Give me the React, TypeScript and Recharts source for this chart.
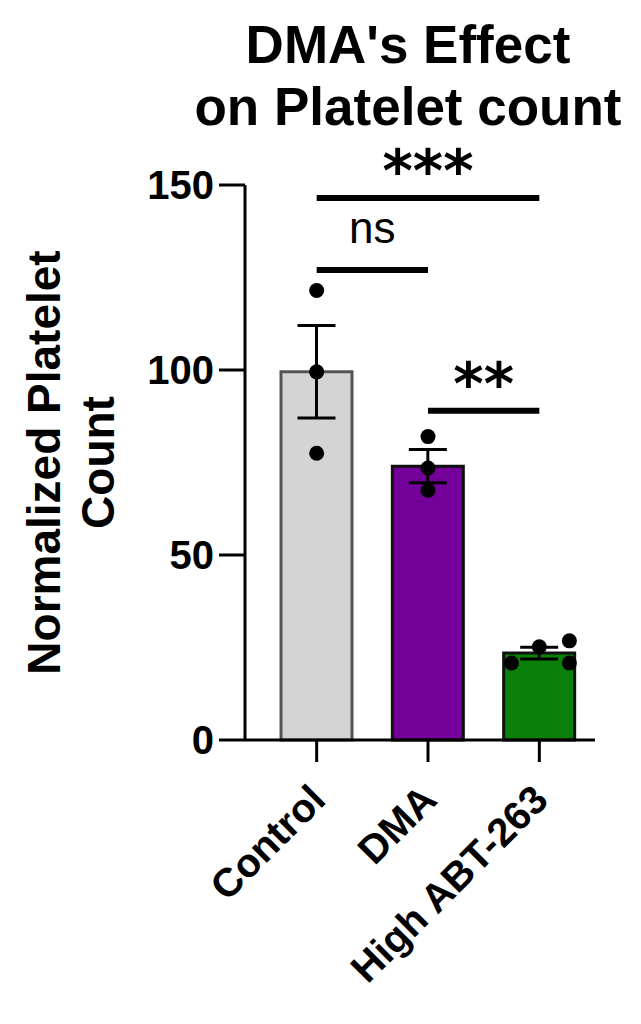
import React from "react";
import {
  ComposedChart,
  Bar,
  Cell,
  ErrorBar,
  Scatter,
  XAxis,
  YAxis,
  ReferenceLine,
} from "recharts";

const FONT = "'Liberation Sans', Arial, sans-serif";

// groups and summary stats (mean ± SEM)
const groups = ["Control", "DMA", "High ABT-263"];
const means = [99.5, 74, 23.5];
const sems = [12.5, 4.5, 1.6];
const fills = ["#d4d4d4", "#74009a", "#0a7f0a"];
const strokes = ["#555555", "#111111", "#111111"];

// individual replicates: x is the group position (with a little jitter), y the value
const pointX = [0, 0, 0, 1, 1, 1, 1.75, 2, 2.27, 2.27];
const pointY = [121.5, 99.5, 77.5, 82, 73.5, 67.5, 20.8, 25.2, 26.8, 20.8];

// significance brackets: from group, to group, height, text
const sigFrom = [0, 0, 1];
const sigTo = [2, 1, 2];
const sigY = [146.5, 127, 89];
const sigText = ["***", "ns", "**"];

const yTicks = [0, 50, 100, 150];

const barData = groups.map((g, i) => ({ group: g, mean: means[i], sem: sems[i] }));
const pointData = pointX.map((x, i) => ({ x, y: pointY[i] }));

const XTick = (props: any) => {
  const { x, y, payload } = props;
  const ax = x + 11;
  const ay = y + 38;
  return (
    <text
      x={ax}
      y={ay}
      textAnchor="end"
      transform={`rotate(-45, ${ax}, ${ay})`}
      fontSize={40}
      fontWeight="bold"
      fontFamily={FONT}
      fill="#000"
    >
      {payload.value}
    </text>
  );
};

const YLabel = (props: any) => {
  const vb = props.viewBox || {};
  const cy = vb.y + vb.height / 2;
  return (
    <g fontFamily={FONT} fontWeight="bold" fontSize={46} fill="#000">
      <text x={60} y={cy} textAnchor="middle" transform={`rotate(-90, 60, ${cy})`}>
        Normalized Platelet
      </text>
      <text x={114} y={cy} textAnchor="middle" transform={`rotate(-90, 114, ${cy})`}>
        Count
      </text>
    </g>
  );
};

const sigLabel = (text: string) => (props: any) => {
  const vb = props.viewBox || {};
  const cx = vb.x + vb.width / 2;
  const isStars = text !== "ns";
  return (
    <text
      x={cx}
      y={isStars ? vb.y - 7 : vb.y - 27}
      textAnchor="middle"
      fontFamily={isStars ? "'DejaVu Sans', sans-serif" : FONT}
      fontWeight={isStars ? "bold" : "normal"}
      fontSize={isStars ? 58 : 44}
      fill="#000"
    >
      {text}
    </text>
  );
};

export default function App() {
  return (
    <div style={{ position: "absolute", left: 0, top: 0, width: 641, height: 1024, background: "#fff" }}>
      <ComposedChart
        width={641}
        height={1024}
        data={barData}
        margin={{ top: 185, right: 46, bottom: 224, left: 125 }}
      >
        <XAxis
          xAxisId="cat"
          dataKey="group"
          type="category"
          padding={{ left: 16, right: 0 }}
          height={60}
          interval={0}
          tick={<XTick />}
          tickSize={22}
          axisLine={{ stroke: "#000", strokeWidth: 3 }}
          tickLine={{ stroke: "#000", strokeWidth: 3 }}
        />
        <XAxis
          xAxisId="num"
          dataKey="x"
          type="number"
          domain={[-0.5, 2.5]}
          padding={{ left: 16, right: 0 }}
          allowDataOverflow
          hide
        />
        <YAxis
          domain={[0, 150]}
          ticks={yTicks}
          width={120}
          tickSize={26}
          tickMargin={5}
          tick={{ fontSize: 40, fontWeight: "bold", fill: "#000", fontFamily: FONT }}
          axisLine={{ stroke: "#000", strokeWidth: 3 }}
          tickLine={{ stroke: "#000", strokeWidth: 3 }}
          label={<YLabel />}
        />
        <Bar xAxisId="cat" dataKey="mean" barSize={71} strokeWidth={3} isAnimationActive={false}>
          {barData.map((d, i) => (
            <Cell key={d.group} fill={fills[i]} stroke={strokes[i]} />
          ))}
          <ErrorBar dataKey="sem" width={19} strokeWidth={3} stroke="#000" isAnimationActive={false} />
        </Bar>
        <Scatter
          xAxisId="num"
          data={pointData}
          dataKey="y"
          isAnimationActive={false}
          shape={(p: any) => <circle cx={p.cx} cy={p.cy} r={7.5} fill="#000" />}
        />
        {sigText.map((t, i) => (
          <ReferenceLine
            key={t}
            xAxisId="num"
            segment={[
              { x: sigFrom[i], y: sigY[i] },
              { x: sigTo[i], y: sigY[i] },
            ]}
            stroke="#000"
            strokeWidth={6}
            label={sigLabel(t)}
          />
        ))}
      </ComposedChart>
      <svg
        width={641}
        height={180}
        style={{ position: "absolute", left: 0, top: 0, pointerEvents: "none" }}
      >
        <g fontFamily={FONT} fontWeight="bold" fontSize={53} fill="#000" textAnchor="middle">
          <text x={408} y={63}>DMA's Effect</text>
          <text x={408} y={125}>on Platelet count</text>
        </g>
      </svg>
    </div>
  );
}
